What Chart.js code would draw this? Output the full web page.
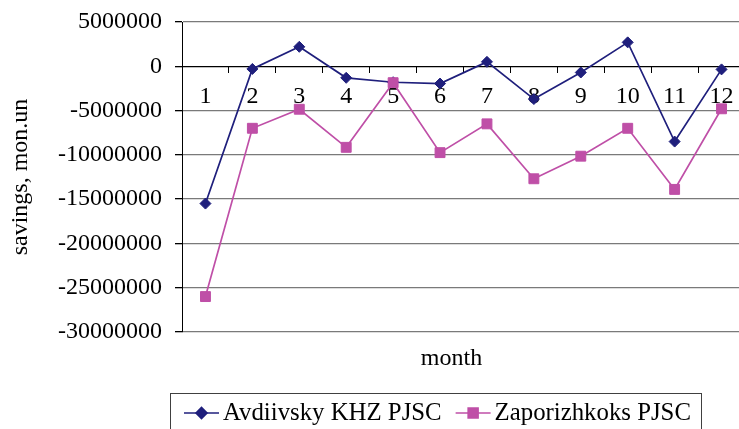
<!DOCTYPE html>
<html>
<head>
<meta charset="utf-8">
<script src="https://cdn.jsdelivr.net/npm/chart.js@4/dist/chart.umd.min.js"></script>
<style>
html,body{margin:0;padding:0;background:#fff;overflow:hidden;width:739px;height:429px;}
canvas{display:block;}
</style>
</head>
<body>
<canvas id="c" width="871" height="429"></canvas>
<script>
const months = ['1','2','3','4','5','6','7','8','9','10','11','12'];
const avdiivsky = [-15500000, -300000, 2200000, -1300000, -1800000, -1950000, 500000, -3700000, -700000, 2700000, -8500000, -350000];
const zaporizhkoks = [-26000000, -7000000, -4850000, -9150000, -1850000, -9750000, -6500000, -12700000, -10150000, -7000000, -13900000, -4800000];
const seriesNames = ['Avdiivsky KHZ PJSC', 'Zaporizhkoks PJSC'];
const yTitle = 'savings, mon.un';
const xTitle = 'month';

const NAVY = '#1f1f7c';
const MAG = '#bf4fa7';
const FONT = '"Liberation Serif", "Times New Roman", serif';

const extras = {
  id: 'extras',
  afterDraw(chart) {
    const ctx = chart.ctx;
    const ca = chart.chartArea;
    ctx.save();
    // x title
    ctx.fillStyle = '#000';
    ctx.font = '24px ' + FONT;
    ctx.textAlign = 'center';
    ctx.textBaseline = 'middle';
    ctx.fillText(xTitle, (ca.left + ca.right) / 2 - 12, 359);
    // legend box
    const bx = 170, by = 393, bw = 531, bh = 50;
    ctx.strokeStyle = '#404040';
    ctx.lineWidth = 1;
    ctx.strokeRect(bx + 0.5, by + 0.5, bw, bh);
    ctx.font = '24.8px ' + FONT;
    const ly = 413;
    let x = 184;
    chart.data.datasets.forEach((ds, i) => {
      ctx.strokeStyle = ds.borderColor;
      ctx.lineWidth = 1.6;
      ctx.beginPath();
      ctx.moveTo(x, ly);
      ctx.lineTo(x + 35, ly);
      ctx.stroke();
      ctx.fillStyle = ds.borderColor;
      Chart.helpers.drawPoint(ctx, {pointStyle: ds.pointStyle, radius: ds.pointRadius, borderWidth: 1}, x + 17.5, ly);
      ctx.fill();
      ctx.fillStyle = '#000';
      ctx.textAlign = 'left';
      ctx.fillText(ds.label, x + 39, ly);
      x += 39 + ctx.measureText(ds.label).width + 14;
    });
    ctx.restore();
  }
};

function noPad(scale) {
  scale.paddingTop = 0; scale.paddingBottom = 0;
  scale.paddingLeft = 0; scale.paddingRight = 0;
}

new Chart(document.getElementById('c'), {
  type: 'line',
  data: {
    labels: months,
    datasets: [
      {
        label: seriesNames[0], data: avdiivsky,
        borderColor: NAVY, backgroundColor: NAVY, borderWidth: 1.7,
        pointStyle: 'rectRot', pointRadius: 5.5, pointBorderWidth: 1,
        pointBackgroundColor: NAVY, pointBorderColor: NAVY,
        tension: 0, order: 1
      },
      {
        label: seriesNames[1], data: zaporizhkoks,
        borderColor: MAG, backgroundColor: MAG, borderWidth: 1.7,
        pointStyle: 'rect', pointRadius: 7, pointBorderWidth: 1,
        pointBackgroundColor: MAG, pointBorderColor: MAG,
        tension: 0, order: 0
      }
    ]
  },
  options: {
    responsive: false,
    animation: false,
    devicePixelRatio: 1,
    layout: { padding: { left: 0, right: 871 - 745, top: 22, bottom: 97 } },
    plugins: { legend: { display: false }, tooltip: { enabled: false } },
    scales: {
      x: {
        type: 'category',
        position: { y: 0 },
        offset: true,
        afterFit: noPad,
        grid: { offset: true, drawOnChartArea: false, drawTicks: true, tickLength: 6, color: '#000' },
        border: { display: true, color: '#000', width: 1 },
        ticks: { color: '#000', font: { family: FONT, size: 24 }, padding: 10, autoSkip: false, maxRotation: 0 }
      },
      y: {
        min: -30000000, max: 5000000,
        afterFit(scale) { scale.width = 182; noPad(scale); },
        ticks: { stepSize: 5000000, color: '#000', font: { family: FONT, size: 24 }, padding: 13,
                 callback: v => String(v) },
        grid: { color: ctx => (ctx.tick && ctx.tick.value === 0) ? '#000' : '#7a7a7a', tickColor: '#000', tickLength: 7, lineWidth: 1.3 },
        border: { display: true, color: '#000', width: 1 },
        title: { display: true, text: yTitle, color: '#000', font: { family: FONT, size: 24 }, padding: { top: 6, bottom: 0 } }
      }
    }
  },
  plugins: [extras]
});
</script>
</body>
</html>
